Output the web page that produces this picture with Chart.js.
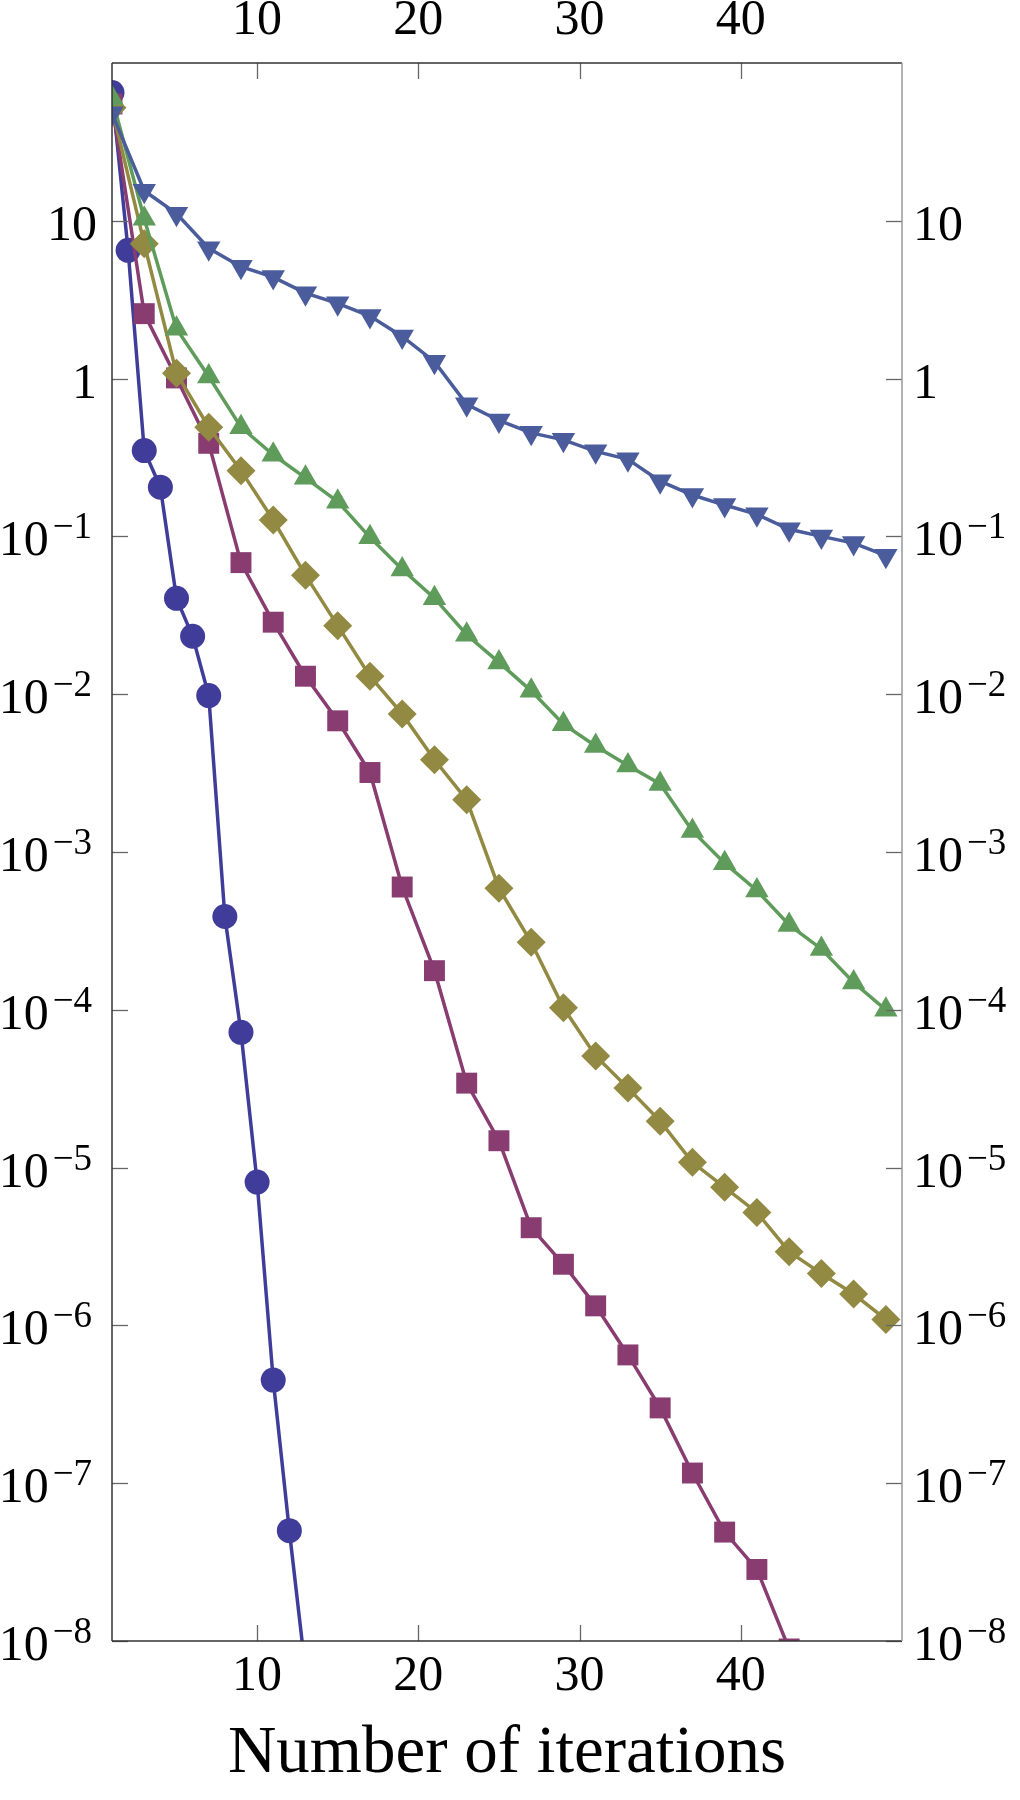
<!DOCTYPE html>
<html>
<head>
<meta charset="utf-8">
<script src="https://cdn.jsdelivr.net/npm/chart.js@4.4.1/dist/chart.umd.min.js"></script>
<style>
  html, body { margin: 0; padding: 0; background: #fff; }
  #wrap { width: 1020px; height: 1800px; }
</style>
</head>
<body>
<div id="wrap"><canvas id="chart" width="1020" height="1800"></canvas></div>
<script>
// iterations
const circleIters = [1, 2, 3, 4, 5, 6, 7, 8, 9, 10, 11, 12, 13];
const oddIters = [1, 3, 5, 7, 9, 11, 13, 15, 17, 19, 21, 23, 25, 27, 29, 31, 33, 35, 37, 39, 41, 43, 45, 47, 49];

// error per iteration, one array per method
const circleErr = [65, 6.5, 0.35, 0.205, 0.0405, 0.0233, 0.0098, 3.9e-4, 7.2e-5, 8.1e-6, 4.5e-7, 5.0e-8, 6.5e-9];
const squareErr = [55, 2.58, 1.01, 0.389, 0.0682, 0.0286, 0.0130, 0.00678, 0.00319, 6.0e-4, 1.77e-4,
  3.43e-5, 1.48e-5, 4.16e-6, 2.44e-6, 1.33e-6, 6.5e-7, 3.0e-7, 1.16e-7, 4.9e-8, 2.84e-8, 8.9e-9];
const diamondErr = [52, 7.16, 1.08, 0.492, 0.261, 0.127, 0.0568, 0.0272, 0.0130, 0.0075, 0.00384, 0.00214,
  5.9e-4, 2.68e-4, 1.03e-4, 5.1e-5, 3.2e-5, 1.97e-5, 1.08e-5, 7.5e-6, 5.2e-6, 2.93e-6, 2.13e-6, 1.58e-6, 1.09e-6];
const upErr = [60, 10.3, 2.07, 1.03, 0.492, 0.329, 0.235, 0.166, 0.0986, 0.0618, 0.0406, 0.0238, 0.0159,
  0.0105, 0.00645, 0.0047, 0.00353, 0.0027, 0.00136, 8.5e-4, 5.7e-4, 3.45e-4, 2.43e-4, 1.49e-4, 1.0e-4];
const downErr = [48, 15.5, 11.1, 6.7, 5.12, 4.4, 3.48, 3.0, 2.49, 1.85, 1.28, 0.687, 0.543, 0.453, 0.409,
  0.346, 0.308, 0.224, 0.183, 0.158, 0.138, 0.111, 0.100, 0.0907, 0.0755];

const xTickValues = [10, 20, 30, 40];
const yTickValues = [1e1, 1, 1e-1, 1e-2, 1e-3, 1e-4, 1e-5, 1e-6, 1e-7, 1e-8];
const xTitle = "Number of iterations";

const serif = '"Liberation Serif", "DejaVu Serif", serif';

let toPoints = (xs, ys) => ys.map((v, i) => ({ x: xs[i], y: v }));

let series = (xs, ys, color, style, radius, rotation, order) => ({
    data: toPoints(xs, ys),
    borderColor: color,
    backgroundColor: color,
    borderWidth: 3.5,
    pointStyle: style,
    pointRadius: radius,
    pointHoverRadius: radius,
    pointRotation: rotation,
    pointBorderWidth: 0,
    pointBackgroundColor: color,
    tension: 0,
    clip: 0,
    order: order
});

// frame, inside tick marks and the 10^n labels on both sides
const framePlugin = {
    id: "frame",
    afterDatasetsDraw(chart) {
        const { ctx, chartArea: a, scales } = chart;
        const x = scales.x, y = scales.y;
        let line = (x1, y1, x2, y2) => {
            ctx.beginPath(); ctx.moveTo(x1, y1); ctx.lineTo(x2, y2); ctx.stroke();
        };
        ctx.save();
        ctx.strokeStyle = "#666";
        ctx.lineWidth = 1.3;
        xTickValues.forEach(v => {
            const px = Math.round(x.getPixelForValue(v)) + 0.5;
            line(px, a.top, px, a.top + 16);
            line(px, a.bottom, px, a.bottom - 16);
        });
        yTickValues.forEach(v => {
            const py = Math.round(y.getPixelForValue(v)) + 0.5;
            line(a.left, py, a.left + 16, py);
            line(a.right, py, a.right - 16, py);
        });

        ctx.lineWidth = 1.5;
        ctx.strokeStyle = "#333";
        line(a.left, a.top, a.right, a.top);
        line(a.left, a.top, a.left, a.bottom);
        line(a.left, a.bottom, a.right, a.bottom);
        ctx.strokeStyle = "#999";
        line(a.right, a.top, a.right, a.bottom);

        ctx.fillStyle = "#000";
        ctx.textBaseline = "alphabetic";
        ctx.textAlign = "left";
        yTickValues.forEach(v => {
            const e = Math.round(Math.log10(v));
            const py = y.getPixelForValue(v);
            const base = e === 0 ? "1" : "10";
            const sup = e < 0 ? "\u2212" + (-e) : "";
            ctx.font = "50px " + serif;
            const w1 = ctx.measureText(base).width;
            ctx.font = "37px " + serif;
            const w2 = sup ? ctx.measureText(sup).width + 4 : 0;
            const trail = sup ? 5 : 0;
            [a.left - 15 - w1 - w2 - trail, a.right + 11].forEach(sx => {
                ctx.font = "50px " + serif;
                ctx.fillText(base, sx, py + 19);
                if (sup) {
                    ctx.font = "37px " + serif;
                    ctx.fillText(sup, sx + w1 + 4, py + 2);
                }
            });
        });
        ctx.restore();
    }
};

let keepTicks = s => { s.ticks = xTickValues.map(v => ({ value: v })); };

const chart = new Chart("chart", {
    type: "line",
    data: {
        datasets: [
            series(circleIters, circleErr, "#3f3d99", "circle", 12.5, 0, 5),
            series(oddIters, squareErr, "#883c70", "rect", 14.8, 0, 4),
            series(oddIters, diamondErr, "#928a42", "rectRot", 14.5, 0, 3),
            series(oddIters, upErr, "#5f9c5b", "triangle", 13.5, 0, 2),
            series(oddIters, downErr, "#4a5c9b", "triangle", 13.5, 180, 1)
        ]
    },
    options: {
        responsive: false,
        animation: false,
        devicePixelRatio: 1,
        layout: { padding: { left: 112, right: 118, top: 0, bottom: 0 } },
        plugins: { legend: { display: false }, tooltip: { enabled: false } },
        scales: {
            x: {
                type: "linear",
                position: "bottom",
                min: 1,
                max: 50,
                afterBuildTicks: keepTicks,
                afterFit: s => { s.height = 159; },
                grid: { display: false, drawTicks: false },
                border: { display: false },
                ticks: { font: { family: serif, size: 50 }, color: "#000", padding: 6, maxRotation: 0 },
                title: { display: true, text: xTitle, color: "#000", font: { family: serif, size: 67 }, padding: { top: 0, bottom: 5 } }
            },
            x2: {
                type: "linear",
                position: "top",
                min: 1,
                max: 50,
                afterBuildTicks: keepTicks,
                afterFit: s => { s.height = 63; },
                grid: { display: false, drawTicks: false },
                border: { display: false },
                ticks: { font: { family: serif, size: 50 }, color: "#000", padding: 12, maxRotation: 0 }
            },
            y: {
                type: "logarithmic",
                display: false,
                min: 1e-8,
                max: 100
            }
        }
    },
    plugins: [framePlugin]
});
</script>
</body>
</html>
